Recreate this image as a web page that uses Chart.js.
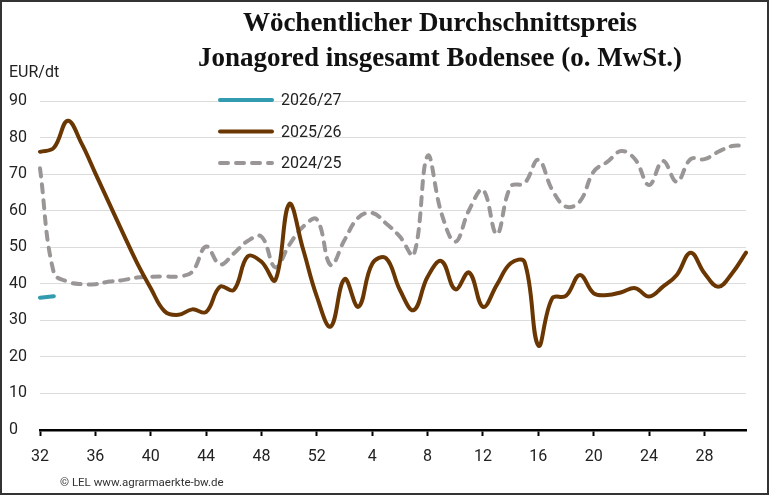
<!DOCTYPE html>
<html lang="de">

<head>
    <meta charset="UTF-8">
    <title>Wöchentlicher Durchschnittspreis Jonagored</title>
    <style>
        body { margin: 0; background: #fff; }
        canvas { display: block; }
    </style>
</head>

<body>
    <canvas id="preis" width="769" height="495"></canvas>

    <script src="https://cdn.jsdelivr.net/npm/chart.js"></script>
    <script>

        // Kalenderwochen 32 bis 31 des Folgejahres
        const weeks = ['32', '33', '34', '35', '36', '37', '38', '39', '40', '41', '42', '43', '44', '45', '46', '47',
            '48', '49', '50', '51', '52', '1', '2', '3', '4', '5', '6', '7', '8', '9', '10', '11', '12', '13', '14',
            '15', '16', '17', '18', '19', '20', '21', '22', '23', '24', '25', '26', '27', '28', '29', '30', '31'];

        const seasonNames = ['2026/27', '2025/26', '2024/25'];

        // EUR/dt
        const price2026 = [36.2, 36.6];
        const price2025 = [76.1, 77.2, 84.6, 78.4, 70.2, 62, 53.8, 45.8, 38.8, 32.5, 31.5, 33, 32.3, 39.2, 38.3, 47.5,
            46, 41, 61.8, 49.5, 36.5, 28.3, 41.3, 33.7, 45.5, 47, 38.3, 32.8, 41.9, 46.2, 38.5, 43.1, 33.7, 39.7, 45.6,
            46, 23.1, 36, 36.7, 42.4, 37.4, 36.9, 37.7, 38.8, 36.5, 39.2, 42.4, 48.5, 42.9, 39.2, 42.9, 48.5];
        const price2024 = [71.6, 43, 40.6, 39.9, 39.9, 40.6, 41, 41.7, 41.9, 42, 42, 43.3, 50.2, 45.3, 48.3, 51.7,
            52.9, 44.5, 50.6, 55.6, 57.6, 45.1, 52, 58.1, 59.4, 56.5, 52.9, 47.9, 75, 59.3, 51.5, 60.2, 65.7, 53.6, 66.6,
            67.5, 73.9, 65.7, 61.1, 62.5, 70.7, 73.4, 76.3, 74, 67, 73.6, 67.9, 74.1, 74.1, 76.1, 77.7, 77.7];

        const titleLines = ['Wöchentlicher Durchschnittspreis', 'Jonagored insgesamt Bodensee (o. MwSt.)'];
        const unitLabel = 'EUR/dt';
        const footerText = '© LEL www.agrarmaerkte-bw.de';

        const sans = 'Roboto, "Liberation Sans", sans-serif';

        // Titel, Einheit, Legende, Quelle und Rahmen
        const decor = {
            id: 'decor',
            afterDraw(chart) {
                const ctx = chart.ctx;
                ctx.save();

                ctx.fillStyle = '#111';
                ctx.textAlign = 'center';
                ctx.textBaseline = 'middle';
                ctx.font = 'bold 27px "Liberation Serif", serif';
                ctx.fillText(titleLines[0], 440, 24);
                ctx.fillText(titleLines[1], 440, 59);

                ctx.textAlign = 'left';
                ctx.font = '16px ' + sans;
                ctx.fillStyle = '#222';
                ctx.fillText(unitLabel, 9, 73);

                const rows = [100, 131.5, 163];
                chart.data.datasets.forEach((ds, i) => {
                    ctx.strokeStyle = ds.borderColor;
                    ctx.lineWidth = ds.borderWidth;
                    ctx.lineCap = 'round';
                    ctx.setLineDash(ds.borderDash || []);
                    ctx.beginPath();
                    ctx.moveTo(220, rows[i]);
                    ctx.lineTo(272, rows[i]);
                    ctx.stroke();
                    ctx.setLineDash([]);
                    ctx.fillStyle = '#222';
                    ctx.fillText(ds.label, 281, rows[i] + 1);
                });

                ctx.font = '11.5px ' + sans;
                ctx.fillStyle = '#333';
                ctx.fillText(footerText, 60, 483);

                ctx.strokeStyle = '#333';
                ctx.lineWidth = 2;
                ctx.strokeRect(1, 1, chart.width - 2, chart.height - 2);
                ctx.restore();
            }
        };

        const config = {
            type: 'line',
            data: {
                labels: weeks,
                datasets: [{
                    label: seasonNames[0],
                    data: price2026,
                    borderColor: '#329bb0',
                    borderWidth: 4,
                },
                {
                    label: seasonNames[1],
                    data: price2025,
                    borderColor: '#6a3703',
                    borderWidth: 4,
                },
                {
                    label: seasonNames[2],
                    data: price2024,
                    borderColor: '#9a9696',
                    borderWidth: 4,
                    borderDash: [8, 8],
                }]
            },
            options: {
                responsive: false,
                animation: false,
                devicePixelRatio: 1,
                layout: { padding: { left: 9, right: 23, top: 101, bottom: 0 } },
                elements: {
                    point: { radius: 0 },
                    line: { tension: 0.4, borderCapStyle: 'round', borderJoinStyle: 'round', fill: false }
                },
                plugins: {
                    legend: { display: false },
                    title: { display: false },
                    tooltip: { enabled: false }
                },
                scales: {
                    x: {
                        afterFit: (scale) => { scale.height = 65; },
                        grid: {
                            drawOnChartArea: false,
                            drawTicks: true,
                            tickLength: 6,
                            tickWidth: 2,
                            tickColor: '#000',
                            color: '#000'
                        },
                        border: { display: true, color: '#000', width: 2.5 },
                        ticks: {
                            autoSkip: false,
                            maxRotation: 0,
                            padding: 11,
                            color: '#222',
                            font: { family: sans, size: 16 },
                            callback: (value, index) => (index % 4 === 0 ? weeks[index] : null)
                        }
                    },
                    y: {
                        min: 0,
                        max: 90,
                        afterFit: (scale) => { scale.width = 31; },
                        grid: {
                            color: '#dcdcdc',
                            lineWidth: 1,
                            drawTicks: false,
                            borderDash: [3, 2]
                        },
                        border: { display: false },
                        ticks: {
                            stepSize: 10,
                            crossAlign: 'far',
                            color: '#222',
                            font: { family: sans, size: 16 }
                        }
                    }
                }
            },
            plugins: [decor]
        };

        const chart = new Chart(document.getElementById('preis'), config);

    </script>
</body>

</html>
